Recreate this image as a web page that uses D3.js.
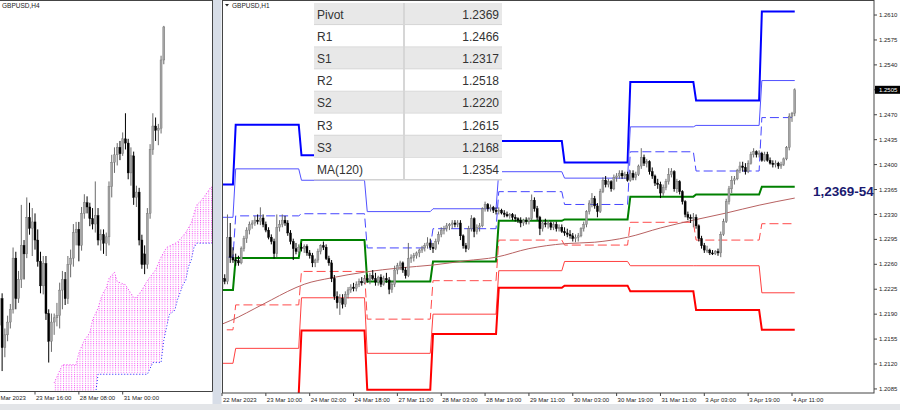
<!DOCTYPE html>
<html lang="en">
<head>
  <meta charset="utf-8">
  <title>GBPUSD H4 / H1 daily pivots</title>
  <script src="https://d3js.org/d3.v7.min.js"></script>
  <style>
    body { margin: 0; background: #fff; }
    svg { display: block; }
    text { font-family: "Liberation Sans", Arial, sans-serif; }
  </style>
</head>
<body>
<script>
// every price below is stored in pips above 1.2000
const BASE = 1.2;
const pip = v => BASE + v / 10000;

// ---- left window: GBPUSD,H4 with Ichimoku cloud ----
const h4TickIdx = [-3, 13, 29, 45];
const h4TickLabels = ["21 Mar 2023", "23 Mar 16:00", "28 Mar 08:00", "31 Mar 00:00"];
const h4Open  = [225,250,204,216,228,240,288,250,268,300,292,326,316,322,305,285,262,283,236,210,228,232,234,258,268,250,282,288,312,315,300,330,340,336,325,320,328,305,310,302,308,355,378,385,392,386,400,396,368,384,345,350,305,292,282,330,390,412,408,410,474];
const h4High  = [256,255,222,234,245,298,294,276,338,305,345,340,335,330,315,294,290,290,240,236,236,246,265,276,275,290,296,320,322,322,336,348,346,340,335,360,335,315,315,312,360,385,392,396,398,406,424,400,392,388,356,354,310,300,335,395,424,420,414,478,506];
const h4Low   = [218,182,195,210,222,236,240,246,260,268,288,310,290,296,280,255,254,230,190,200,216,224,222,240,244,245,270,280,300,285,295,325,330,318,315,312,300,295,292,290,300,345,368,375,380,384,390,362,356,338,336,300,278,273,278,325,385,398,394,405,470];
const h4Close = [250,204,216,228,240,288,250,268,300,292,326,316,322,305,285,262,283,236,210,228,232,234,258,268,250,282,288,312,315,300,330,340,336,325,320,328,305,310,302,308,355,378,385,392,386,400,396,368,384,345,350,305,282,282,330,390,412,408,410,474,505];
const spanAIdx = [20,23,28,29,31,33,34,36,37,38,39,40,42,43,46,49,50,52,54,57,59,61,65,68,70,72,74,77,78];
const spanA    = [171,188,188,199,211,218,230,241,250,256,260,269,275,266,263,251,251,258,267,277,289,298,303,312,321,338,343,354,356];
const spanBIdx = [20,35,36,54,56,59,60,62,64,65,67,68,69,70,71,72,78];
const spanB    = [155,158,179,179,190,190,211,235,239,249,263,267,280,286,298,302,302];

// ---- right window: GBPUSD,H1 with daily pivot levels ----
const h1FirstOpen = 226;   // later opens = previous close
const h1Close = [240,236,298,270,266,265,262,282,296,308, 316,318,322,320,325,316,308,298,292,275,
  312,316,322,318,304,292,282,278,284,282, 285,276,272,262,266,278,286,284,268,262,
  240,215,206,212,204,218,224,228,226,232, 236,234,240,238,244,240,235,242,232,240,
  238,225,232,252,258,262,252,244,268,270, 272,276,280,283,286,290,284,282,292,302,
  308,310,314,316,318,316,318,300,286,282, 310,324,306,312,314,338,344,338,340,336,
  334,336,332,330,328,330,326,324,322,318, 322,320,324,350,338,326,310,318,316,318,
  312,316,310,312,306,304,302,300,296,298, 300,310,316,334,346,352,342,334,362,378,
  372,376,366,382,384,388,384,386,378,388, 382,386,398,410,402,404,390,384,374,372,
  360,368,376,386,390,366,376,362,348,330, 326,324,326,314,296,286,280,280,276,275,
  278,276,302,320,348,366,378,380,392,398, 396,390,402,414,418,414,416,406,414,406,
  402,400,402,398,400,408,424,468,472,505];
const h1High = [244,246,330,318,284,275,272,285,300,312, 320,322,328,330,340,330,320,312,302,296,
  330,322,330,328,322,308,296,290,288,290, 288,288,280,276,268,282,288,292,288,272,
  266,245,222,218,218,222,228,232,234,236, 240,242,245,246,248,252,248,244,246,244,
  248,242,236,258,262,265,264,256,290,274, 276,278,282,286,290,298,296,290,296,306,
  312,314,318,318,322,322,322,322,302,290, 314,329,326,316,318,340,348,346,344,342,
  340,340,338,336,334,332,332,330,326,326, 324,326,326,358,354,342,328,322,324,322,
  320,320,320,316,316,312,310,308,304,302, 304,312,320,336,350,360,356,346,366,382,
  384,380,378,386,388,392,392,390,390,392, 392,390,400,423,414,408,406,396,386,380,
  376,372,380,395,395,392,380,378,364,350, 334,330,332,330,316,300,290,286,282,280,
  280,282,306,324,352,370,384,384,394,404, 404,402,406,418,423,420,420,418,418,418,
  410,406,406,404,404,410,426,472,474,507];
const h1Low = [222,232,232,262,262,258,258,260,278,290, 302,310,314,316,315,312,305,295,288,268,
  270,306,312,314,300,288,266,274,275,278, 276,272,268,256,256,262,274,280,266,258,
  235,210,198,189,198,200,212,220,222,222, 228,230,232,234,232,238,230,230,228,230,
  234,218,220,228,246,252,248,240,242,262, 264,268,270,276,278,282,280,276,280,288,
  298,302,306,308,310,312,312,294,282,277, 280,306,298,302,306,312,334,334,334,332,
  330,330,330,326,326,324,322,320,318,312, 314,316,316,322,334,322,301,306,312,310,
  308,308,306,306,304,300,298,296,292,291, 292,298,306,312,330,340,338,326,332,360,
  368,368,362,364,376,380,380,380,376,376, 378,378,384,394,398,396,386,380,370,366,
  353,356,364,372,382,362,360,358,344,326, 322,318,312,310,292,282,276,276,273,273,
  273,272,270,300,318,344,360,372,378,388, 390,386,388,400,410,410,410,404,404,404,
  400,396,396,394,394,398,406,420,460,468];
const h1TickLabels = ["22 Mar 2023","23 Mar 10:00","24 Mar 02:00","24 Mar 18:00","27 Mar 11:00",
  "28 Mar 03:00","28 Mar 19:00","29 Mar 11:00","30 Mar 03:00","30 Mar 19:00","31 Mar 11:00",
  "3 Apr 03:00","3 Apr 19:00","4 Apr 11:00"];
const priceTicks = [1.2085,1.2120,1.2155,1.2190,1.2225,1.2260,1.2295,1.2330,1.2365,1.2400,
  1.2435,1.2470,1.2505,1.2540,1.2575,1.2610];

// first H1 bar of each trading day: 22 Mar, 23, 24, 27, 28, 29, 30, 31 Mar, 3 Apr, 4 Apr
const dayStart = [-3,5,29,53,77,101,125,149,173,197];
const pivR3 = [372,456,413,383,383,433,403,516,490,615];
const pivR2 = [326,394,378,334,338,390,381,453,455,518];
const pivR1 = [270,328,331,283,310,362,344,418,391,466];
const pivP  = [224,269,294,236,264,321,323,355,358,369];
const pivS1 = [168,203,250,183,237,294,287,319,294,317];
const pivS2 = [121,142,213,135,190,251,264,258,258,220];
const pivS3 = [66,78,167,84,162,227,230,222,196,168];
const maIdx = [0,6,12,18,24,30,40,52,65,77,89,100,112,125,136,148,160,172,184,196,209];
const ma120 = [176,186,198,210,222,232,241,249,255,259,265,270,282,289,291,298,311,322,332,343,353];

const tableLabels = ["Pivot","R1","S1","R2","S2","R3","S3","MA(120)"];
const tableValues = ["1.2369","1.2466","1.2317","1.2518","1.2220","1.2615","1.2168","1.2354"];
const zoneLabel = "1,2369-54";

// ---------------------------------------------------------------
const svg = d3.select("body").append("svg").attr("width", 900).attr("height", 410);
const defs = svg.append("defs");
defs.append("clipPath").attr("id", "clipL").append("rect")
  .attr("x", 0).attr("y", 0).attr("width", 212).attr("height", 391);
defs.append("clipPath").attr("id", "clipR").append("rect")
  .attr("x", 222).attr("y", 0).attr("width", 652).attr("height", 393);
const pat = defs.append("pattern").attr("id", "kumo").attr("patternUnits", "userSpaceOnUse")
  .attr("width", 2.74).attr("height", 2.2);
pat.append("rect").attr("width", 1).attr("height", 1).attr("fill", "#f455f4");

// window chrome
svg.append("rect").attr("x", 212.5).attr("y", 0).attr("width", 9).attr("height", 410).attr("fill", "#d7dde7");
svg.append("rect").attr("x", 0).attr("y", 404).attr("width", 900).attr("height", 6).attr("fill", "#e3e5e8");

const xL = d3.scaleLinear().domain([13, 45]).range([35, 122.7]);
const yL = d3.scaleLinear().domain([1.21633, 1.25303]).range([391, 0]);
const xR = d3.scaleLinear().domain([0, 208]).range([222, 792]);
const yR = d3.scaleLinear().domain([1.20793, 1.26311]).range([393, 0]);

function candles(g, o, h, l, c, x, y) {
  const bars = o.map((v, i) => ({ i, o: v, h: h[i], l: l[i], c: c[i] }));
  const bar = g.selectAll("g.bar").data(bars).enter().append("g").attr("class", "bar");
  bar.append("line")
    .attr("x1", d => x(d.i)).attr("x2", d => x(d.i))
    .attr("y1", d => y(pip(d.h))).attr("y2", d => y(pip(d.l)))
    .attr("stroke", d => d.c >= d.o ? "#6a6a6a" : "#000").attr("stroke-width", 1);
  bar.append("rect")
    .attr("x", d => x(d.i) - 1).attr("width", 2)
    .attr("y", d => y(pip(Math.max(d.o, d.c))))
    .attr("height", d => Math.max(1, Math.abs(y(pip(d.o)) - y(pip(d.c)))))
    .attr("fill", d => d.c >= d.o ? "#a4a4a4" : "#000")
    .attr("stroke", d => d.c >= d.o ? "#707070" : "#000").attr("stroke-width", 0.4);
}

// ---------- left panel ----------
const gL = svg.append("g").attr("clip-path", "url(#clipL)");
const cloudPts = spanAIdx.map((d, k) => [xL(d), yL(pip(spanA[k]))])
  .concat(spanBIdx.map((d, k) => [xL(d), yL(pip(spanB[k]))]).reverse());
gL.append("path").attr("d", d3.line()(cloudPts) + "Z").attr("fill", "url(#kumo)");
gL.append("path")
  .attr("d", d3.line().x((d, k) => xL(d)).y((d, k) => yL(pip(spanA[k])))(spanAIdx))
  .attr("fill", "none").attr("stroke", "#f044f0").attr("stroke-dasharray", "1,2");
gL.append("path")
  .attr("d", d3.line().x((d, k) => xL(d)).y((d, k) => yL(pip(spanB[k])))(spanBIdx))
  .attr("fill", "none").attr("stroke", "#2233ff").attr("stroke-dasharray", "1,2");
candles(gL, h4Open, h4High, h4Low, h4Close, xL, yL);

svg.append("line").attr("x1", 0).attr("x2", 212.5).attr("y1", 391.5).attr("y2", 391.5).attr("stroke", "#444");
svg.append("line").attr("x1", 212.5).attr("x2", 212.5).attr("y1", 0).attr("y2", 391.5).attr("stroke", "#444");
svg.append("line").attr("x1", 0).attr("x2", 212.5).attr("y1", 0.5).attr("y2", 0.5).attr("stroke", "#444");
svg.append("text").attr("x", 2).attr("y", 8).attr("font-size", 6.5).attr("fill", "#222").text("GBPUSD,H4");

const axL = svg.append("g");
h4TickIdx.forEach((d, k) => {
  const x = xL(d);
  axL.append("line").attr("x1", x).attr("x2", x).attr("y1", 391.5).attr("y2", 394.5).attr("stroke", "#444");
  axL.append("text").attr("x", x + 1).attr("y", 399.5).attr("font-size", 6).attr("fill", "#222").text(h4TickLabels[k]);
});

// ---------- right panel ----------
const h1Open = h1Close.map((v, i) => i ? h1Close[i - 1] : h1FirstOpen);
const gR = svg.append("g").attr("clip-path", "url(#clipR)");
const lastBar = h1Close.length - 1;

function levelLine(vals) {
  const pts = [];
  vals.forEach((v, d) => {
    const end = d < dayStart.length - 1 ? dayStart[d + 1] - 1 : lastBar;
    pts.push([dayStart[d], v], [end, v]);
  });
  return d3.line().x(p => xR(p[0])).y(p => yR(pip(p[1])))(pts);
}
const levels = [
  { v: pivR3, c: "#0000ff", w: 2 },
  { v: pivR2, c: "#5050ff", w: 1 },
  { v: pivR1, c: "#4545ff", w: 1, dash: "9,4" },
  { v: pivP,  c: "#008000", w: 2 },
  { v: pivS1, c: "#ff4a4a", w: 1, dash: "9,4" },
  { v: pivS2, c: "#ff4040", w: 1 },
  { v: pivS3, c: "#ff0000", w: 2 }
];
levels.forEach(L => {
  gR.append("path").attr("d", levelLine(L.v)).attr("fill", "none")
    .attr("stroke", L.c).attr("stroke-width", L.w)
    .attr("stroke-dasharray", L.dash || null);
});
gR.append("path")
  .attr("d", d3.line().curve(d3.curveMonotoneX).x((d, k) => xR(d)).y((d, k) => yR(pip(ma120[k])))(maIdx))
  .attr("fill", "none").attr("stroke", "#b86262").attr("stroke-width", 1);
candles(gR, h1Open, h1High, h1Low, h1Close, xR, yR);

// pivot table
const tbl = svg.append("g");
const rowH = 22.1, tTop = 3, tL = 314, tR = 502, tMid = 404;
tableLabels.forEach((lab, k) => {
  const y0 = tTop + k * rowH;
  tbl.append("rect").attr("x", tL).attr("y", y0).attr("width", tR - tL).attr("height", rowH)
    .attr("fill", k % 2 === 0 ? "#e8e8e8" : "#ffffff");
  tbl.append("line").attr("x1", tL).attr("x2", tR).attr("y1", y0 + rowH).attr("y2", y0 + rowH)
    .attr("stroke", "#d2d2d2").attr("stroke-width", 1.5);
  tbl.append("text").attr("x", tL + 3).attr("y", y0 + 16).attr("font-size", 12)
    .attr("font-family", "'Noto Sans', sans-serif").attr("fill", "#333").text(lab);
  tbl.append("text").attr("x", tR - 3).attr("y", y0 + 16).attr("font-size", 12)
    .attr("font-family", "'Noto Sans', sans-serif").attr("text-anchor", "end").attr("fill", "#333")
    .text(tableValues[k]);
});
tbl.append("line").attr("x1", tMid).attr("x2", tMid).attr("y1", tTop).attr("y2", tTop + 8 * rowH)
  .attr("stroke", "#d6d6d6").attr("stroke-width", 2);

svg.append("text").attr("x", 813).attr("y", 196).attr("font-size", 13.5).attr("font-weight", "bold")
  .attr("font-family", "'Liberation Serif', 'Times New Roman', serif").attr("fill", "#1a1a70")
  .text(zoneLabel);

svg.append("rect").attr("x", 222.5).attr("y", 0.5).attr("width", 651.5).attr("height", 392.5)
  .attr("fill", "none").attr("stroke", "#444");
svg.append("path").attr("d", "M225,4 L229,4 L227,6.5 Z").attr("fill", "#222");
svg.append("text").attr("x", 232).attr("y", 8).attr("font-size", 6.5).attr("fill", "#222").text("GBPUSD,H1");

const axR = svg.append("g");
priceTicks.forEach(p => {
  const y = yR(p);
  axR.append("line").attr("x1", 874).attr("x2", 877).attr("y1", y).attr("y2", y).attr("stroke", "#444");
  axR.append("text").attr("x", 879).attr("y", y).attr("dy", "0.35em").attr("font-size", 6)
    .attr("fill", "#222").text(p.toFixed(4));
});
const lastY = yR(pip(h1Close[lastBar]));
axR.append("rect").attr("x", 875).attr("y", lastY - 4).attr("width", 25).attr("height", 8).attr("fill", "#000");
axR.append("text").attr("x", 879).attr("y", lastY).attr("dy", "0.35em").attr("font-size", 6)
  .attr("fill", "#fff").text(pip(h1Close[lastBar]).toFixed(4));

h1TickLabels.forEach((lab, k) => {
  const x = xR(k * 16);
  axR.append("line").attr("x1", x).attr("x2", x).attr("y1", 393).attr("y2", 396).attr("stroke", "#444");
  axR.append("text").attr("x", x + 1).attr("y", 402).attr("font-size", 6).attr("fill", "#222").text(lab);
});
</script>
</body>
</html>
